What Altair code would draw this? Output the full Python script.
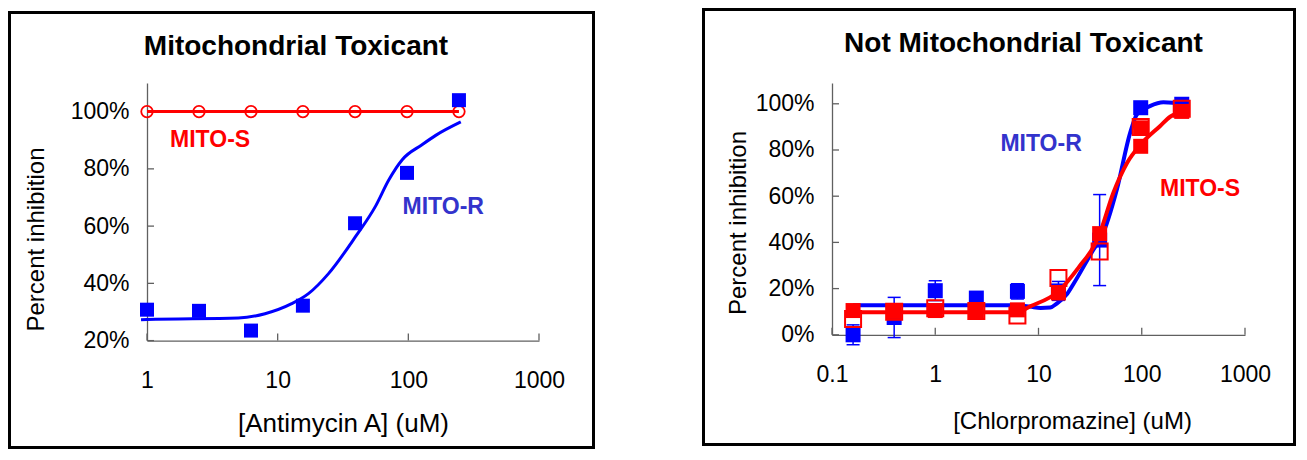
import altair as alt
import pandas as pd

# ---------------- data: left panel (Antimycin A) ----------------
antimycin_conc = [1, 2.5, 6.25, 15.6, 39.1, 97.7, 244]
antimycin_mito_s = [100, 100, 100, 100, 100, 100, 100]
antimycin_mito_r = [30.8, 30.4, 23.5, 32.2, 61.0, 78.6, 104.0]
antimycin_fit_x = [0.9, 1, 5, 8, 12.8, 17.2, 24.5, 39.4, 56, 71, 89.8, 128, 162, 252]
antimycin_fit_y = [27.3, 27.4, 27.9, 29.4, 32.9, 36.4, 43.4, 56.3, 66.9, 76.2, 83.2, 88.5, 91.7, 96.4]

# ---------------- data: right panel (Chlorpromazine) ----------------
cpz_conc = [0.16, 0.4, 1, 2.5, 6.25, 15.6, 39.1, 97.7, 244]
cpz_r_mean = [0.0, 7.5, 19.1, 15.9, 18.8, 19.0, 41.0, 98.3, 99.8]
cpz_r_err = [4.3, 8.7, 4.3, 2.0, 3.3, 4.1, 19.7, 0.0, 0.0]
cpz_s_filled_x = [0.16, 0.4, 1, 2.5, 6.25, 15.6, 39.1, 97.7, 244, 97.7]
cpz_s_filled_y = [10.5, 10.1, 10.5, 10.5, 10.8, 18.1, 43.8, 89.6, 96.7, 81.6]
cpz_s_open_y = [6.8, 10.0, 11.5, 10.3, 8.4, 24.6, 36.1, 90.0, 97.8]
cpz_r_fit_x = [0.16, 0.4, 1, 2.5, 6.25, 8.3, 10.5, 13, 15, 18.8, 21.8, 34, 41, 57.4, 77.2, 89.7, 120, 162, 200, 244]
cpz_r_fit_y = [12.8, 12.8, 12.8, 12.8, 12.8, 12.2, 11.6, 11.8, 13.5, 17.5, 22.0, 36.8, 42.6, 62.9, 87.4, 95.4, 99.0, 100.7, 100.5, 99.8]
cpz_s_fit_x = [0.16, 0.4, 1, 2.5, 6.25, 8.3, 15.6, 25, 35, 39.1, 53, 72, 97.7, 150, 190, 244]
cpz_s_fit_y = [9.8, 9.8, 9.8, 9.8, 9.8, 12.3, 18.8, 29.7, 39.0, 43.8, 61.4, 74.4, 82.4, 90.3, 94.5, 96.5]

left_x_ticks = [1, 10, 100, 1000]
left_y_ticks = [20, 40, 60, 80, 100]
right_x_ticks = [0.1, 1, 10, 100, 1000]
right_y_ticks = [0, 20, 40, 60, 80, 100]

left_labels = ["MITO-S", "MITO-R"]
left_label_x = [3.04, 185]
left_label_y = [90.1, 66.7]
right_labels = ["MITO-R", "MITO-S"]
right_label_x = [10.6, 367]
right_label_y = [82.8, 62.9]

FONT = "Liberation Sans"
BLUE = "#0000FF"
RED = "#FF0000"
LBLUE = "#3333CC"
AXIS = "#606060"


def xy(xs, ys):
    return pd.DataFrame({"x": xs, "y": ys})


def make_axes(xdomain, ydomain, xticks, yticks, xtitle, xtitle_size, xtx, xty, ytx, yty):
    X = alt.X("x:Q", scale=alt.Scale(type="log", domain=xdomain),
              axis=alt.Axis(values=xticks, format="~g", grid=False, ticks=False, tickSize=0,
                            domainColor=AXIS, domainWidth=1.3, labelFont=FONT, labelFontSize=23,
                            labelColor="black", labelPadding=29, labelFlush=False, labelOverlap=False,
                            title=xtitle, titleFont=FONT, titleFontSize=xtitle_size,
                            titleFontWeight="normal", titleColor="black", titleX=xtx, titleY=xty,
                            titleAlign="center", titleBaseline="middle"))
    Y = alt.Y("y:Q", scale=alt.Scale(domain=ydomain),
              axis=alt.Axis(values=yticks, labelExpr="datum.value + '%'", grid=False, ticks=False,
                            tickSize=0, domainColor=AXIS, domainWidth=1.3, labelFont=FONT,
                            labelFontSize=23, labelColor="black", labelPadding=18, labelFlush=False,
                            labelOverlap=False, title="Percent inhibition", titleFont=FONT,
                            titleFontSize=24, titleFontWeight="normal", titleColor="black",
                            titleX=ytx, titleY=yty, titleAngle=270, titleAlign="center",
                            titleBaseline="middle"))
    return X, Y


one = pd.DataFrame({"a": [0]})


def frame(x1, x2, y1, y2):
    return alt.Chart(one).mark_rect(fillOpacity=0, stroke="black", strokeWidth=3).encode(
        x=alt.value(x1), x2=alt.value(x2), y=alt.value(y1), y2=alt.value(y2))


def title_text(txt, px, py):
    return alt.Chart(one).mark_text(text=txt, font=FONT, fontSize=28, fontWeight="bold",
                                    color="black", align="center", baseline="alphabetic").encode(
        x=alt.value(px), y=alt.value(py))


def tick_layers(X, Y, xt, yt, h):
    xr = alt.Chart(pd.DataFrame({"x": xt})).mark_rule(color=AXIS, strokeWidth=1.3).encode(
        x=X, y=alt.value(h), y2=alt.value(h - 7))
    yr = alt.Chart(pd.DataFrame({"y": yt})).mark_rule(color=AXIS, strokeWidth=1.3).encode(
        y=Y, x=alt.value(0), x2=alt.value(7))
    return [xr, yr]


def labels(names, xs, ys, colors):
    df = pd.DataFrame({"x": xs, "y": ys, "t": names, "c": colors})
    return df


# ---------------- left panel ----------------
LW, LH = 392, 257.6
XL, YL = make_axes([1, 1000], [20, 110], left_x_ticks, left_y_ticks,
                   "[Antimycin A] (uM)", 26, 196, 83, -111, 156)

left_layers = [
    frame(-137.5, 446.5, -70.5, 364.5),
    title_text("Mitochondrial Toxicant", 149, -28),
] + tick_layers(XL, YL, left_x_ticks, left_y_ticks, LH) + [
    alt.Chart(xy(antimycin_conc, antimycin_mito_s)).mark_line(color=RED, strokeWidth=3).encode(x=XL, y=YL),
    alt.Chart(xy(antimycin_conc, antimycin_mito_s)).mark_point(
        shape="circle", filled=False, color=RED, strokeWidth=1.8, size=133, opacity=1).encode(x=XL, y=YL),
    alt.Chart(xy(antimycin_fit_x, antimycin_fit_y)).mark_line(
        color=BLUE, strokeWidth=3, interpolate="monotone").encode(x=XL, y=YL),
    alt.Chart(xy(antimycin_conc, antimycin_mito_r)).mark_point(
        shape="square", filled=True, color=BLUE, size=196, opacity=1).encode(x=XL, y=YL),
    alt.Chart(labels(left_labels, left_label_x, left_label_y, [RED, LBLUE])).mark_text(
        font=FONT, fontSize=23, fontWeight="bold", align="center", baseline="middle").encode(
        x=XL, y=YL, text="t:N", color=alt.Color("c:N", scale=None)),
]
left = alt.layer(*left_layers).properties(width=LW, height=LH)

# ---------------- right panel ----------------
RW, RH = 413, 251.8
XR, YR = make_axes([0.1, 1000], [0, 109], right_x_ticks, right_y_ticks,
                   "[Chlorpromazine] (uM)", 24, 240, 87, -93.5, 139.5)

err_df = pd.DataFrame({"x": cpz_conc, "m": cpz_r_mean, "e": cpz_r_err})
err_df = err_df[err_df["e"] > 0].copy()
err_df["y"] = err_df["m"] - err_df["e"]
err_df["y2"] = err_df["m"] + err_df["e"]
caps_df = pd.DataFrame({"x": list(err_df["x"]) * 2, "y": list(err_df["y"]) + list(err_df["y2"])})

right_layers = [
    frame(-128.5, 462.5, -73.5, 361.5),
    title_text("Not Mitochondrial Toxicant", 191.5, -31),
] + tick_layers(XR, YR, right_x_ticks, right_y_ticks, RH) + [
    alt.Chart(err_df).mark_rule(color=BLUE, strokeWidth=1.5).encode(x=XR, y=YR, y2="y2:Q"),
    alt.Chart(caps_df).mark_point(shape="M-1,0L1,0", filled=False, color=BLUE, strokeWidth=1.5,
                                  size=169, opacity=1).encode(x=XR, y=YR),
    alt.Chart(xy(cpz_r_fit_x, cpz_r_fit_y)).mark_line(
        color=BLUE, strokeWidth=4, interpolate="monotone").encode(x=XR, y=YR),
    alt.Chart(xy(cpz_conc, cpz_r_mean)).mark_point(
        shape="square", filled=True, color=BLUE, size=225, opacity=1).encode(x=XR, y=YR),
    alt.Chart(xy(cpz_s_fit_x, cpz_s_fit_y)).mark_line(
        color=RED, strokeWidth=4, interpolate="monotone").encode(x=XR, y=YR),
    alt.Chart(xy(cpz_s_filled_x, cpz_s_filled_y)).mark_point(
        shape="square", filled=True, color=RED, size=225, opacity=1).encode(x=XR, y=YR),
    alt.Chart(xy(cpz_conc, cpz_s_open_y)).mark_point(
        shape="square", filled=False, color=RED, strokeWidth=2, size=256, opacity=1).encode(x=XR, y=YR),
    alt.Chart(labels(right_labels, right_label_x, right_label_y, [LBLUE, RED])).mark_text(
        font=FONT, fontSize=23, fontWeight="bold", align="center", baseline="middle").encode(
        x=XR, y=YR, text="t:N", color=alt.Color("c:N", scale=None)),
]
right = alt.layer(*right_layers).properties(width=RW, height=RH)

chart = alt.hconcat(left, right, spacing=107).properties(padding=0, background="white").configure_view(stroke=None)

chart.save("out.html", embed_options={"renderer": "svg", "actions": False})
